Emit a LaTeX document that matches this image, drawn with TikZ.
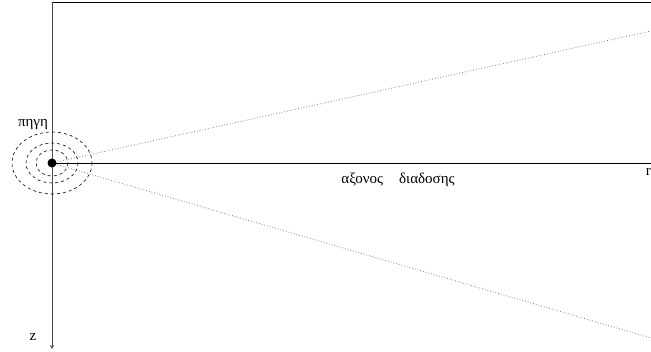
\documentclass[tikz,border=0pt]{standalone}
\usepackage{fontspec}
\setmainfont{Liberation Serif}
\usetikzlibrary{positioning,arrows}

\begin{document}
\begin{tikzpicture}[x=1pt,y=-1pt]
\useasboundingbox (0,0) rectangle (651,351);
%\draw[help lines, step=50] (0,0) grid (651,351);

\draw[line width=1pt] (52,2) -- (651,2);
\draw[line width=0.8pt, black!70, ->, >=stealth] (52,2) -- (52,349);
\draw[line width=1pt] (52,163) -- (651,163);

\coordinate (src) at (52,163);
\draw[dotted, gray, line width=0.8pt] (src) -- (651,31);
\draw[dotted, gray, line width=0.8pt] (src) -- (651,338);

\draw[dashed, line width=0.6pt] (src) ellipse [x radius=40, y radius=31];
\draw[dashed, line width=0.6pt] (src) ellipse [x radius=26, y radius=20];
\draw[dashed, line width=0.6pt] (src) ellipse [x radius=16, y radius=13];

\fill (src) circle (4.5);

\node[font=\fontsize{15}{17}\selectfont] (pigi) at (33,125) {πηγη};
\node[font=\fontsize{15}{17}\selectfont] (axonas) at (398,180) {αξονος\hspace{16pt}διαδοσης};
\node[font=\fontsize{15}{17}\selectfont, anchor=east, inner sep=0pt] (r) at (651,172) {r};
\node[font=\fontsize{15}{17}\selectfont] (z) at (33,337) {z};

\end{tikzpicture}
\end{document}
